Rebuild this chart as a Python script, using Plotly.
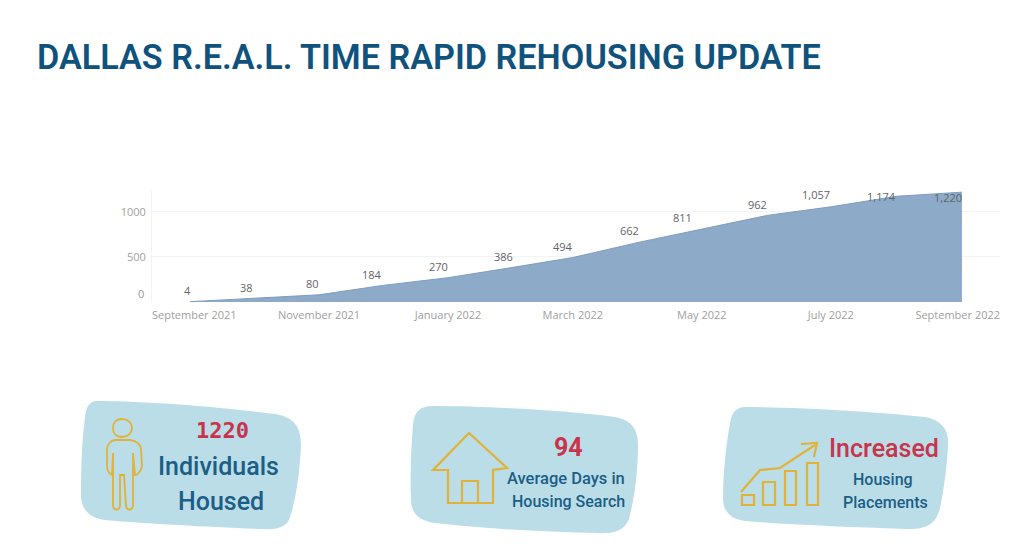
import plotly.graph_objects as go

W, H = 1024, 551

months = ["2021-09-01", "2021-10-01", "2021-11-01", "2021-12-01", "2022-01-01", "2022-02-01",
          "2022-03-01", "2022-04-01", "2022-05-01", "2022-06-01", "2022-07-01", "2022-08-01", "2022-09-01"]
housed = [4, 38, 80, 184, 270, 386, 494, 662, 811, 962, 1057, 1174, 1220]
x_tick_dates = ["2021-09-03", "2021-11-01", "2022-01-01", "2022-03-01", "2022-05-01", "2022-07-01", "2022-08-30"]
x_tick_labels = ["September 2021", "November 2021", "January 2022", "March 2022",
                 "May 2022", "July 2022", "September 2022"]
y_ticks = [0, 500, 1000]
y_tick_labels = ["", "500", "1000"]

NAVY = "#1b5e86"
RED = "#c7344c"
GOLD = "#e0b238"
BLOB = "#bbdde8"
AREA = "#8eaac9"

label_shift_x = [-3, -7, -7, -11, -10, -10, -10, -9, -19, -10, -15, -15, -14]
label_shift_y = [11, 11, 11, 11, 11, 11, 11, 12, 11, 11, 12, 0, -5]


def px(path):
    """Turn an SVG path given in window pixels into paper coordinates."""
    out, is_x = [], True
    for tok in path.split():
        if tok.isalpha():
            out.append(tok)
            continue
        v = float(tok)
        out.append(f"{v / W:.5f}" if is_x else f"{1 - v / H:.5f}")
        is_x = not is_x
    return " ".join(out)


def shape(path, fill=None, line=None, width=1.7):
    s = dict(type="path", xref="paper", yref="paper", path=px(path), layer="below")
    s["fillcolor"] = fill if fill else "rgba(0,0,0,0)"
    s["line"] = dict(color=line, width=width) if line else dict(width=0)
    return s


def label(text, x, y, size, color, weight=600, family="Roboto"):
    return dict(text=text, xref="paper", yref="paper", x=x / W, y=1 - y / H, showarrow=False,
                xanchor="center", yanchor="middle",
                font=dict(family=family, size=size, color=color, weight=weight))


shapes = [
    # blobs
    shape("M 97 401 C 150 401 230 408 275 414 C 295 417 301 428 301 445 C 300 470 296 500 290 517 "
          "C 287 528 275 530 262 529 C 210 527 150 524 105 520 C 90 518 81 510 81 495 "
          "C 81 465 82 440 85 418 C 86 406 90 401 97 401 Z", fill=BLOB),
    shape("M 432 406 C 490 406 570 411 615 417 C 632 420 638 430 638 445 C 638 470 635 495 630 515 "
          "C 627 530 615 534 598 533 C 540 532 480 528 435 523 C 420 521 411 514 411 500 "
          "C 410 475 411 450 413 425 C 414 412 420 406 432 406 Z", fill=BLOB),
    shape("M 745 407 C 800 407 880 412 925 417 C 942 420 949 430 948 445 C 947 465 944 490 940 508 "
          "C 936 525 925 530 905 529 C 850 527 795 525 745 521 C 730 519 723 511 723 498 "
          "C 723 475 726 445 730 423 C 732 412 737 407 745 407 Z", fill=BLOB),
    # person
    shape("M 122 419 C 128 419 132 423 132 428 C 132 433 128 437 122 437 C 116 437 113 433 113 428 "
          "C 113 423 116 419 122 419 Z", line=GOLD, width=1.8),
    shape("M 115 440 L 130 440 C 137 441 141 445 141 450 L 142 466 C 141 472 137 475 135 475 L 133 453 "
          "L 133 506 C 132 511 127 511 126 506 L 124 475 L 120 475 L 120 506 C 119 511 114 511 113 506 "
          "L 113 453 L 112 475 C 109 474 107 470 107 466 L 107 450 C 107 445 110 441 115 440 Z",
          line=GOLD, width=1.8),
    # house
    shape("M 469 433 L 433 470 L 448 470 L 448 503 L 493 503 L 493 470 L 507 468 Z", line=GOLD, width=2.2),
    shape("M 462 503 L 462 481 L 478 481 L 478 503", line=GOLD, width=2.2),
    # bars and arrow
    shape("M 742 495 L 754 495 L 754 505 L 742 505 Z", line=GOLD, width=2.2),
    shape("M 763 482 L 775 482 L 775 505 L 763 505 Z", line=GOLD, width=2.2),
    shape("M 785 471 L 796 471 L 796 505 L 785 505 Z", line=GOLD, width=2.2),
    shape("M 807 463 L 818 463 L 818 505 L 807 505 Z", line=GOLD, width=2.2),
    shape("M 741 492 L 760 470 L 780 468 L 815 445", line=GOLD, width=2.2),
    shape("M 801 444 L 817 443 L 814 457", line=GOLD, width=2.2),
]

annotations = [
    label("DALLAS R.E.A.L. TIME RAPID REHOUSING UPDATE", 428.5, 57, 34.2, "#0f527d", 600),
    label("1220", 222, 430, 22, RED, 700, "DejaVu Sans Mono"),
    label("Individuals", 218, 466, 25, NAVY, 500),
    label("Housed", 221, 501, 25, NAVY, 500),
    label("94", 568, 447, 25, RED, 700),
    label("Average Days in", 566, 478, 16.5, NAVY, 500),
    label("Housing Search", 568, 501, 16, NAVY, 500),
    label("Increased", 884, 448, 25, RED, 500),
    label("Housing", 883, 479, 16, NAVY, 500),
    label("Placements", 885, 502, 16, NAVY, 500),
    dict(text="0", xref="paper", yref="y", x=146 / W, y=0, yshift=9, showarrow=False, xanchor="right",
         font=dict(family="Open Sans", size=11, color="#9a9a9a")),
]

for m, v, dx, dy in zip(months, housed, label_shift_x, label_shift_y):
    annotations.append(dict(x=m, y=v, xref="x", yref="y", text=f"{v:,}", showarrow=False,
                            xshift=dx, yshift=dy, font=dict(family="Open Sans", size=11, color="#5f6468")))

fig = go.Figure(go.Scatter(x=months, y=housed, mode="lines", fill="tozeroy", fillcolor=AREA,
                           line=dict(color="#7f9cc0", width=1), hoverinfo="skip"))

fig.update_layout(
    width=W, height=H, margin=dict(l=0, r=0, t=0, b=0), paper_bgcolor="white", plot_bgcolor="white",
    showlegend=False, shapes=shapes, annotations=annotations,
    xaxis=dict(domain=[152 / W, 1000 / W], type="date", range=["2021-08-14", "2022-09-19"],
               tickvals=x_tick_dates, ticktext=x_tick_labels, showgrid=False, zeroline=False,
               showline=False, ticks="outside", ticklen=2, tickcolor="rgba(0,0,0,0)",
               tickfont=dict(family="Open Sans", size=11, color="#a0a0a0")),
    yaxis=dict(domain=[1 - 303 / H, 1 - 190 / H], range=[-11, 1244], tickvals=y_ticks, ticktext=y_tick_labels,
               showgrid=True, gridcolor="#f1f4f6", gridwidth=1, zeroline=False,
               showline=True, linecolor="#f3f4f5", ticks="outside", ticklen=3, tickcolor="rgba(0,0,0,0)",
               tickfont=dict(family="Open Sans", size=11, color="#a0a0a0")),
)

fig.write_html("out.html", config={"displayModeBar": False},
               post_script="document.body.style.margin='0';")
